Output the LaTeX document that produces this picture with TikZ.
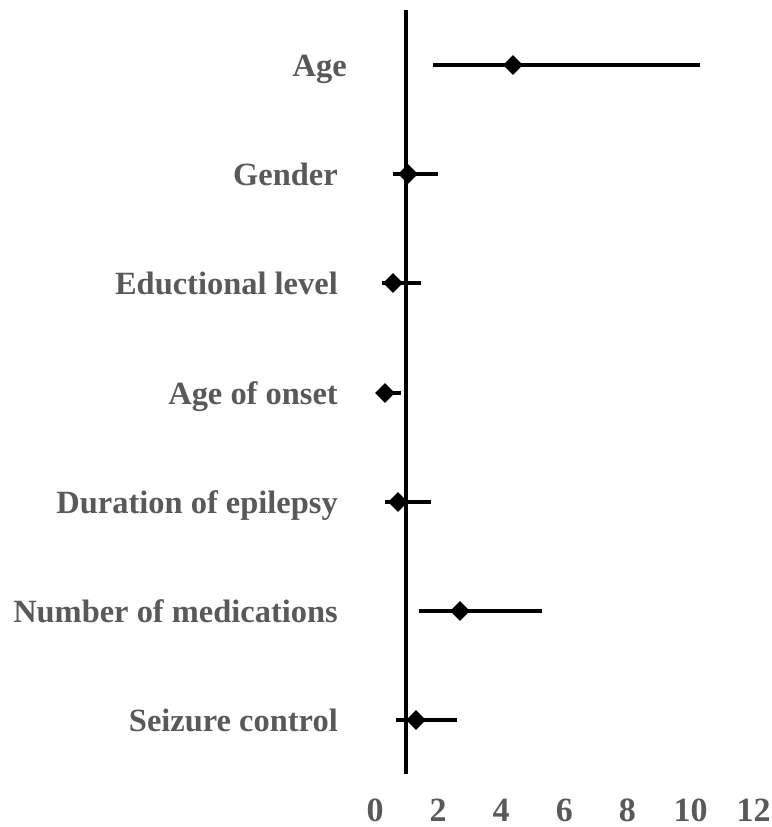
\documentclass[tikz,border=0pt]{standalone}
\usepackage{fontspec}
\setmainfont{Liberation Serif}
\usetikzlibrary{shapes.geometric}
\definecolor{labelgray}{HTML}{595959}
\tikzset{
	rowlabel/.style={anchor=base east, inner sep=0, text=labelgray, font=\fontsize{27.7}{32}\selectfont\bfseries},
	ticklabel/.style={anchor=base, inner sep=0, text=labelgray, font=\fontsize{29}{34}\selectfont\bfseries},
	estimate/.style={diamond, inner sep=0, minimum size=0.6cm, fill=black},
	ciline/.style={line width=2.8pt},
}
\begin{document}
\begin{tikzpicture}[x=0.03cm, y=-0.03cm]
	\useasboundingbox (0,0) rectangle (771,827);
	\draw[line width=2.6pt] (406,10) -- (406,774);
	\node[rowlabel] (lage) at (347,76) {Age};
	\node[rowlabel] (lgender) at (338,185) {Gender};
	\node[rowlabel] (ledu) at (338,294) {Eductional level};
	\node[rowlabel] (lonset) at (338,404) {Age of onset};
	\node[rowlabel] (ldur) at (338,513) {Duration of epilepsy};
	\node[rowlabel] (lmed) at (338,622) {Number of medications};
	\node[rowlabel] (lseiz) at (338,731) {Seizure control};
	\foreach \name/\y/\lo/\est/\hi in {age/65/433/513/700, gender/174/393/408/438, edu/283/382/393/421, onset/393/378/385/401, dur/502/385/398/431, med/611/419/460/542, seiz/720/396/416/457}{
		\draw[ciline] (\lo,\y) -- (\hi,\y);
		\node[estimate] (e\name) at (\est,\y) {};
	}
	\foreach \v [count=\i from 0] in {0,2,4,6,8,10,12}
		\node[ticklabel] (t\v) at (375+\i*63.1,821) {\v};
\end{tikzpicture}
\end{document}
